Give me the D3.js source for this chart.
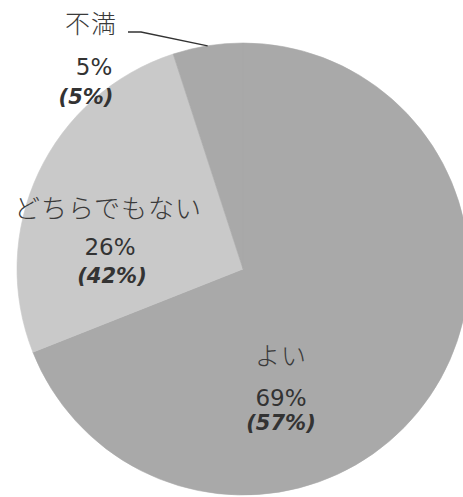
<!DOCTYPE html>
<html>
<head>
<meta charset="utf-8">
<script src="https://cdn.jsdelivr.net/npm/d3@7"></script>
<style>
  html, body { margin: 0; padding: 0; background: #fff; }
  svg { display: block; }
</style>
</head>
<body>
<svg id="chart" width="463" height="497"></svg>
<script>
// ---- data ----
const categories = ["よい", "どちらでもない", "不満"];
const values = [69, 26, 5];          // current %
const prevValues = [57, 42, 5];      // previous % (in parentheses)

// ---- layout / style (not data) ----
const cx = 243, cy = 269, R = 226;
const colors = ["#a9a9a9", "#c9c9c9", "#a9a9a9"];
// label anchor offsets relative to pie centre
const labelLayout = [
  { nameX: 38,   nameY: 96,   anchor: "middle", valX: 38,   valY: 137,  prevX: 38,   prevY: 161 },  // よい
  { nameX: -135, nameY: -51,  anchor: "middle", valX: -133, valY: -14,  prevX: -131, prevY: 14 },   // どちらでもない
  { nameX: -178, nameY: -236, anchor: "start",  valX: -149, valY: -194, prevX: -157, prevY: -165 } // 不満
];

const svg = d3.select("#chart");
const g = svg.append("g").attr("transform", `translate(${cx},${cy})`);

const pie = d3.pie().sort(null).value(d => d.v).startAngle(0).endAngle(2 * Math.PI);
const arcs = pie(categories.map((c, i) => ({ c, v: values[i], p: prevValues[i], i })));
const arc = d3.arc().innerRadius(0).outerRadius(R);

g.selectAll("path.slice")
  .data(arcs)
  .join("path")
  .attr("class", "slice")
  .attr("d", arc)
  .attr("fill", (d, i) => colors[i])
  .attr("stroke", (d, i) => colors[i])
  .attr("stroke-width", 0.6);

// leader line for 不満
const fu = arcs[2];
const midA = (fu.startAngle + fu.endAngle) / 2;
const edge = [Math.sin(midA) * R, -Math.cos(midA) * R];
g.append("path")
  .attr("d", d3.line()([[-115, -237], [-102, -237], edge]))
  .attr("fill", "none")
  .attr("stroke", "#333")
  .attr("stroke-width", 1.3);

const cjk = "'Noto Sans CJK JP', sans-serif";
const latin = "'DejaVu Sans', Verdana, sans-serif";

arcs.forEach((d, i) => {
  const L = labelLayout[i];
  g.append("text")
    .attr("x", L.nameX)
    .attr("y", L.nameY)
    .attr("text-anchor", L.anchor)
    .attr("font-family", cjk)
    .attr("font-size", i === 1 ? 26 : 25)
    .attr("font-weight", 300)
    .attr("letter-spacing", 1)
    .attr("fill", "#3a3a3a")
    .text(d.data.c);
  g.append("text")
    .attr("x", L.valX)
    .attr("y", L.valY)
    .attr("text-anchor", "middle")
    .attr("font-family", latin)
    .attr("font-size", 23)
    .attr("fill", "#333")
    .text(d.data.v + "%");
  g.append("text")
    .attr("x", L.prevX)
    .attr("y", L.prevY)
    .attr("text-anchor", "middle")
    .attr("font-family", latin)
    .attr("font-size", 21)
    .attr("font-weight", "bold")
    .attr("font-style", "italic")
    .attr("fill", "#333")
    .text("(" + d.data.p + "%)");
});
</script>
</body>
</html>
